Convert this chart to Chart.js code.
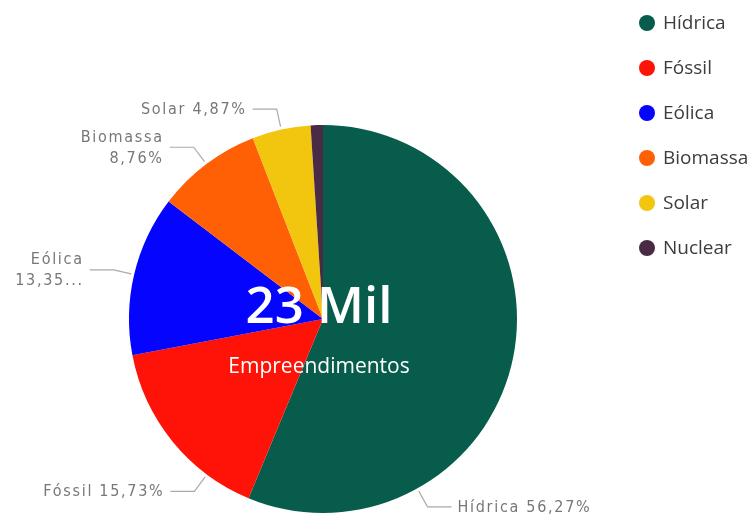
<!DOCTYPE html>
<html lang="pt-BR">
<head>
<meta charset="utf-8">
<title>Empreendimentos por fonte</title>
<script src="https://cdn.jsdelivr.net/npm/chart.js@4"></script>
<style>
  html, body { margin: 0; padding: 0; background: #fff; }
  canvas { display: block; }
</style>
</head>
<body>
<canvas id="fontesChart" width="753" height="519"></canvas>
<script>
// Participação de cada fonte no total de empreendimentos
const categorias = ['Hídrica', 'Fóssil', 'Eólica', 'Biomassa', 'Solar', 'Nuclear'];
const percentuais = [56.27, 15.73, 13.35, 8.76, 4.87, 1.02];
const cores = ['#075c4c', '#ff1208', '#0404ff', '#ff6006', '#f2c50f', '#4a2b45'];
const totalTexto = '23 Mil';
const totalLegenda = 'Empreendimentos';

// Onde o rótulo sai de cada fatia (fração do arco); null = sem rótulo
const posicaoRotulo = [0.745, 0.25, 0.5, 0.5, 0.5, null];
const quebraRotulo = [false, false, true, true, false, false];

function formatarPct(v) {
    return v.toFixed(2).replace('.', ',') + '%';
}

// Corta o texto no maior prefixo que cabe e acrescenta reticências
function cortarTexto(ctx, texto, maxW) {
    if (ctx.measureText(texto).width <= maxW) return texto;
    let t = texto;
    while (t.length > 1 && ctx.measureText(t).width > maxW) {
        t = t.slice(0, -1);
    }
    return t + '...';
}

// Rótulos externos com linha de chamada
const rotulosPlugin = {
    id: 'rotulosExternos',
    afterDatasetsDraw(chart) {
        const ctx = chart.ctx;
        const meta = chart.getDatasetMeta(0);
        ctx.save();
        ctx.font = '16px "DejaVu Sans Condensed", "DejaVu Sans", sans-serif';
        ctx.letterSpacing = '1.7px';
        ctx.textBaseline = 'middle';
        meta.data.forEach((arc, i) => {
            if (posicaoRotulo[i] == null) return;
            const p = arc.getProps(['x', 'y', 'startAngle', 'endAngle', 'outerRadius'], true);
            const a = p.startAngle + (p.endAngle - p.startAngle) * posicaoRotulo[i];
            const lado = Math.cos(a) >= 0 ? 1 : -1;
            const x0 = p.x + Math.cos(a) * (p.outerRadius + 3);
            const y0 = p.y + Math.sin(a) * (p.outerRadius + 3);
            const x1 = p.x + Math.cos(a) * (p.outerRadius + 21);
            const y1 = p.y + Math.sin(a) * (p.outerRadius + 21);
            const x2 = x1 + lado * 24;

            ctx.strokeStyle = '#aaaaaa';
            ctx.lineWidth = 1.2;
            ctx.beginPath();
            ctx.moveTo(x0, y0);
            ctx.lineTo(x1, y1);
            ctx.lineTo(x2, y1);
            ctx.stroke();

            const tx = x2 + lado * 6;
            const maxW = lado > 0 ? chart.width - tx - 8 : tx - 20;
            const valor = formatarPct(percentuais[i]);
            const linhas = quebraRotulo[i] ? [categorias[i], valor] : [categorias[i] + ' ' + valor];
            const alturaLinha = 21;
            let ty = y1 - (linhas.length - 1) * alturaLinha / 2;
            ctx.fillStyle = '#777777';
            ctx.textAlign = lado > 0 ? 'left' : 'right';
            linhas.forEach(l => {
                ctx.fillText(cortarTexto(ctx, l, maxW), tx, ty + 1);
                ty += alturaLinha;
            });
        });
        ctx.restore();
    }
};

// Total no centro da pizza
const centroPlugin = {
    id: 'textoCentral',
    afterDatasetsDraw(chart) {
        const ctx = chart.ctx;
        const arc = chart.getDatasetMeta(0).data[0];
        const cx = arc.x - 4;
        const cy = arc.y;
        ctx.save();
        ctx.fillStyle = '#ffffff';
        ctx.textAlign = 'center';
        ctx.textBaseline = 'alphabetic';
        ctx.font = '600 51px "Open Sans", sans-serif';
        ctx.fillText(totalTexto, cx, cy + 4);
        ctx.font = '21px "Open Sans", sans-serif';
        ctx.fillText(totalLegenda, cx, cy + 54);
        ctx.restore();
    }
};

// Legenda lateral com marcadores circulares
const legendaPlugin = {
    id: 'legendaLateral',
    afterDraw(chart) {
        const ctx = chart.ctx;
        ctx.save();
        ctx.font = '19px "Open Sans", sans-serif';
        ctx.textBaseline = 'middle';
        ctx.textAlign = 'left';
        categorias.forEach((nome, i) => {
            const y = 23 + i * 45;
            ctx.fillStyle = cores[i];
            ctx.beginPath();
            ctx.arc(647, y, 8, 0, Math.PI * 2);
            ctx.fill();
            ctx.fillStyle = '#3c3c3c';
            ctx.fillText(nome, 663, y + 1);
        });
        ctx.restore();
    }
};

const ctx = document.getElementById('fontesChart').getContext('2d');
const fontesChart = new Chart(ctx, {
    type: 'pie',
    data: {
        labels: categorias,
        datasets: [{
            data: percentuais,
            backgroundColor: cores,
            borderWidth: 0
        }]
    },
    options: {
        responsive: false,
        animation: false,
        layout: {
            padding: { top: 125, bottom: 6, left: 129, right: 236 }
        },
        plugins: {
            legend: { display: false },
            tooltip: { enabled: false }
        }
    },
    plugins: [rotulosPlugin, centroPlugin, legendaPlugin]
});
</script>
</body>
</html>
